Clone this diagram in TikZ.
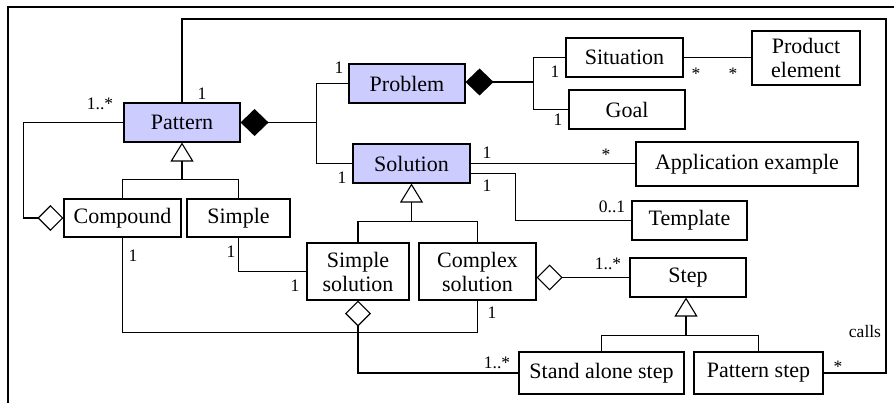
\documentclass[tikz,border=0pt]{standalone}
\usepackage{fontspec}
\setmainfont{Liberation Serif}
\usepackage{xcolor}
\usepackage{tikz}
\usetikzlibrary{arrows.meta, positioning}

\definecolor{keyfill}{RGB}{204,204,255}

\begin{document}
\begin{tikzpicture}[x=1pt, y=-1pt,
			line width=1.1pt,
			box/.style={draw, fill=white, inner sep=0pt, align=center,
				font=\fontsize{22}{24}\selectfont, minimum height=39pt},
			keybox/.style={box, fill=keyfill},
			lbl/.style={anchor=base, inner sep=0pt, font=\fontsize{17.5}{20}\selectfont},
			comp/.style={{Diamond[length=28pt,width=27pt]}-},
			agg/.style={{Diamond[open,length=26pt,width=26pt]}-},
			aggend/.style={-{Diamond[open,length=26pt,width=26pt]}},
			inh/.style={{Triangle[open,length=19pt,width=23pt]}-}]

			\useasboundingbox (0,0) rectangle (894,403);
			\draw (8,403) -- (8,7) -- (894,7);

			% classes
			\node[keybox, minimum width=116pt] (pattern) at (182,122.5) {Pattern};
			\node[keybox, minimum width=116pt] (problem) at (407,83.5) {Problem};
			\node[keybox, minimum width=117pt] (solution) at (411.5,163.5) {Solution};
			\node[box, minimum width=117pt] (situation) at (624.5,57.5) {Situation};
			\node[box, minimum width=116pt] (goal) at (627,109.5) {Goal};
			\node[box, minimum width=108pt, minimum height=54pt] (product) at (806,58) {Product\\element};
			\node[box, minimum width=222pt, minimum height=44pt] (appex) at (747,164) {Application example};
			\node[box, minimum width=115pt] (template) at (689.5,220.5) {Template};
			\node[box, minimum width=117pt, minimum height=38pt] (compound) at (122.5,218) {Compound};
			\node[box, minimum width=103pt, minimum height=38pt] (simple) at (238.5,218) {Simple};
			\node[box, minimum width=102pt, minimum height=57pt] (simplesol) at (358,271.5) {Simple\\solution};
			\node[box, minimum width=117pt, minimum height=57pt] (complexsol) at (477.5,271.5) {Complex\\solution};
			\node[box, minimum width=116pt] (stepcls) at (688,277.5) {Step};
			\node[box, minimum width=165pt, minimum height=42pt] (standalone) at (601.5,373) {Stand alone step};
			\node[box, minimum width=129pt, minimum height=42pt] (patstep) at (758.5,373) {Pattern step};

			% composition
			\draw[comp] (pattern.east) -- ++(76,0) coordinate (pj);
			\draw (problem.west) -| (pj) |- (solution.west);
			\draw[comp] (problem.east |- 0,82) -- ++(68,0) coordinate (pb);
			\draw (situation.west) -| (pb) |- (goal.west);

			% associations
			\draw (situation.east) -- (situation.east -| product.west);
			\draw (solution.east) -- (solution.east -| appex.west);
			\draw ([yshift=-10pt]solution.east) -- ++(45,0) |- (template.west);
			\draw (simple.south) |- (simplesol.west);
			\draw (compound.south) -- ++(0,95) -| (complexsol.south);
			\coordinate (ctop) at (886,19);
			\draw (patstep.east) -| (ctop) -| (pattern.north);

			% aggregation
			\draw[aggend] (pattern.west) -- ++(-100,0) |- (compound.west);
			\draw[agg] (simplesol.south) |- (standalone.west);
			\draw[agg] (complexsol.east |- stepcls.west) -- (stepcls.west);

			% inheritance
			\draw[inh] (pattern.south) -- ++(0,37) coordinate (pi);
			\draw (compound.north) |- (pi) -| (simple.north);
			\draw[inh] (solution.south) -- ++(0,38) coordinate (si);
			\draw (simplesol.north) |- (si) -| (complexsol.north);
			\draw[inh] ([xshift=-2pt]stepcls.south) -- ++(0,38) coordinate (sti);
			\draw (standalone.north) |- (sti) -| (patstep.north);

			% multiplicities
			\node[lbl] (mpat) at (202,100) {1};
			\node[lbl] (mpatc) at (100,110) {1..*};
			\node[lbl] (mprob) at (339,74) {1};
			\node[lbl] (msol) at (342,184) {1};
			\node[lbl] (msit) at (555,78) {1};
			\node[lbl] (mgoal) at (558,126) {1};
			\node[lbl] (msitp) at (696,80) {*};
			\node[lbl] (mprod) at (733,80) {*};
			\node[lbl] (msola) at (487,159) {1};
			\node[lbl] (mapp) at (606,161) {*};
			\node[lbl] (msolt) at (487,192) {1};
			\node[lbl] (mtmpl) at (612,213) {0..1};
			\node[lbl] (mcomp) at (133,262) {1};
			\node[lbl] (msimp) at (231,258) {1};
			\node[lbl] (mssol) at (295,292) {1};
			\node[lbl] (mcsol) at (492,318) {1};
			\node[lbl] (mstep) at (608,270) {1..*};
			\node[lbl] (msa) at (497,368) {1..*};
			\node[lbl] (mps) at (838,372) {*};
			\node[lbl] (calls) at (865,337) {calls};
		\end{tikzpicture}
\end{document}
